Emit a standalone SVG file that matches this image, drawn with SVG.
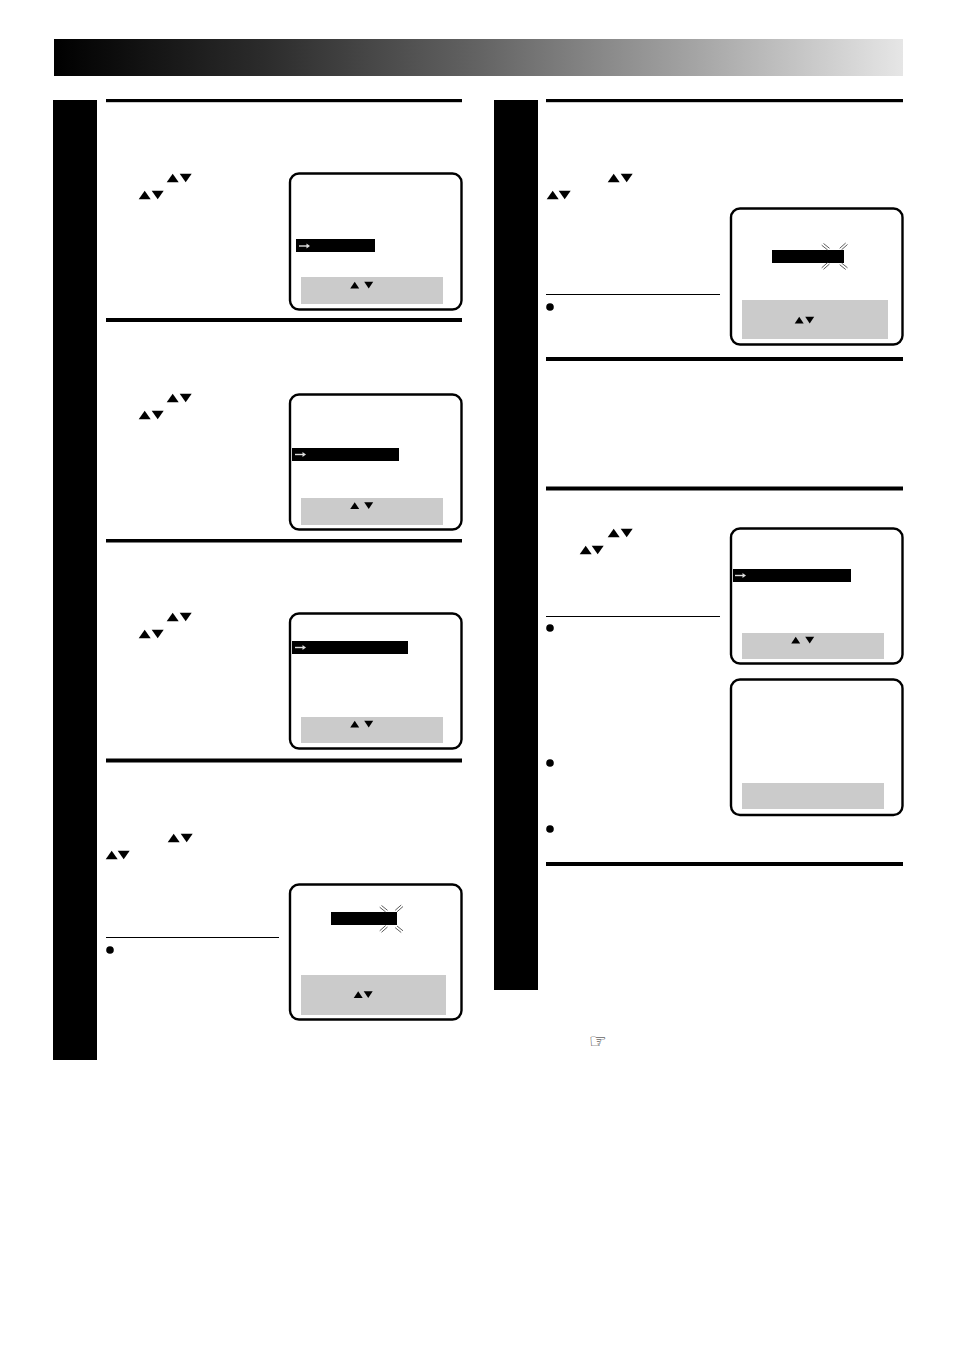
<svg xmlns="http://www.w3.org/2000/svg" xmlns:xlink="http://www.w3.org/1999/xlink" width="954" height="1349" viewBox="0 0 954 1349">
<style>
.screen{fill:#fff;stroke:#000;stroke-width:2.4}
.panel{fill:#cbcbcb}
.b{fill:#000}
.thin{stroke:#000;stroke-width:1.2;fill:none}
.ray{stroke:#333;stroke-width:.8;fill:none}
</style>
<defs>
<linearGradient id="hdr" x1="0" x2="1" y1="0" y2="0"><stop offset="0" stop-color="#000"/><stop offset=".25" stop-color="#2c2c2c"/><stop offset=".5" stop-color="#636363"/><stop offset=".75" stop-color="#a3a3a3"/><stop offset="1" stop-color="#e6e6e6"/></linearGradient>
<polygon id="u" points="-.3,8.300 5.700,-.3 11.700,8.300" fill="#000"/>
<polygon id="d" points="-.3,-.3 11.700,-.3 5.700,8.300" fill="#000"/>
<polygon id="su" points="-.3,6.400 4.200,-.3 8.700,6.400" fill="#000"/>
<polygon id="sd" points="-.3,-.3 8.700,-.3 4.200,6.400" fill="#000"/>
<g id="arr"><path d="M0 0H8" stroke="#ddd" stroke-width="1.4"/><polygon points="7.500,-2.500 11,0 7.500,2.500" fill="#ddd"/></g>
<g id="rayNW"><path class="ray" d="M1.500 -.5L7.500 4.300M-.3 1.200L5.700 6"/></g>
<g id="rayNE"><path class="ray" d="M1.500 5.800L7.500 .5M-.3 4.300L5.700 -1"/></g>
</defs>
<rect width="954" height="1349" fill="#fff"/>
<g id="header"><rect x="54" y="39" width="849" height="37" fill="url(#hdr)"/></g>
<g id="tabs" class="b"><rect x="53" y="100" width="44" height="960"/><rect x="494" y="100" width="44" height="890"/></g>
<g id="rules" class="b">
<rect x="106" y="99" width="356" height="3.200"/><rect x="106" y="318" width="356" height="4"/><rect x="106" y="539" width="356" height="3.500"/><rect x="106" y="758.500" width="356" height="4"/>
<rect x="546" y="99" width="357" height="3.200"/><rect x="546" y="357" width="357" height="4"/><rect x="546" y="486.500" width="357" height="4"/><rect x="546" y="862" width="357" height="4"/>
</g>
<g id="notes">
<path class="thin" d="M106 937.500H279M546 294.500H720M546 616.500H720"/>
<g class="b"><circle cx="110" cy="950" r="3.800"/><circle cx="550" cy="307" r="3.800"/><circle cx="550" cy="628" r="3.800"/><circle cx="550" cy="763" r="3.800"/><circle cx="550" cy="829" r="3.800"/></g>
</g>
<g id="text-arrows">
<use href="#u" x="167" y="174"/><use href="#d" x="180" y="174"/><use href="#u" x="139" y="191"/><use href="#d" x="152" y="191"/>
<use href="#u" x="167" y="394"/><use href="#d" x="180" y="394"/><use href="#u" x="139" y="411"/><use href="#d" x="152" y="411"/>
<use href="#u" x="167" y="613"/><use href="#d" x="180" y="613"/><use href="#u" x="139" y="630"/><use href="#d" x="152" y="630"/>
<use href="#u" x="168" y="834"/><use href="#d" x="181" y="834"/><use href="#u" x="106" y="851"/><use href="#d" x="118" y="851"/>
<use href="#u" x="608" y="174"/><use href="#d" x="621" y="174"/><use href="#u" x="547" y="191"/><use href="#d" x="559" y="191"/>
<use href="#u" x="608" y="529"/><use href="#d" x="621" y="529"/><use href="#u" x="580" y="546"/><use href="#d" x="592" y="546"/>
</g>
<g id="screen-1"><rect class="screen" x="290" y="173.500" width="171.500" height="136" rx="9"/><rect class="b" x="296" y="239" width="79" height="13"/><use href="#arr" x="299" y="246"/><rect class="panel" x="301" y="277" width="142" height="27"/><use href="#su" x="350.500" y="282"/><use href="#sd" x="364.500" y="282"/></g>
<g id="screen-2"><rect class="screen" x="290" y="394.500" width="171.500" height="135" rx="9"/><rect class="b" x="292" y="448" width="107" height="13"/><use href="#arr" x="295" y="454.500"/><rect class="panel" x="301" y="498" width="142" height="27"/><use href="#su" x="350.500" y="502.500"/><use href="#sd" x="364.500" y="502.500"/></g>
<g id="screen-3"><rect class="screen" x="290" y="613.500" width="171.500" height="135" rx="9"/><rect class="b" x="292" y="641" width="116" height="13"/><use href="#arr" x="295" y="647.500"/><rect class="panel" x="301" y="717" width="142" height="26"/><use href="#su" x="350.500" y="721"/><use href="#sd" x="364.500" y="721"/></g>
<g id="screen-4"><rect class="screen" x="290" y="884.500" width="171.500" height="135" rx="9"/><rect class="b" x="331" y="912" width="66" height="13"/>
<use href="#rayNW" x="380" y="906"/><use href="#rayNE" x="395.500" y="906"/><use href="#rayNE" x="380" y="926.500"/><use href="#rayNW" x="395.500" y="926.500"/>
<rect class="panel" x="301" y="975" width="145" height="40"/><use href="#su" x="354" y="991.500"/><use href="#sd" x="364" y="991.500"/></g>
<g id="screen-5"><rect class="screen" x="731" y="208.500" width="171.500" height="136" rx="9"/><rect class="b" x="772" y="250" width="72" height="13"/>
<use href="#rayNW" x="822" y="244"/><use href="#rayNE" x="840" y="244"/><use href="#rayNE" x="822" y="263.500"/><use href="#rayNW" x="840" y="263.500"/>
<rect class="panel" x="742" y="300" width="146" height="39"/><use href="#su" x="795" y="317"/><use href="#sd" x="805.500" y="317"/></g>
<g id="screen-6"><rect class="screen" x="731" y="528.500" width="171.500" height="135" rx="9"/><rect class="b" x="733" y="569" width="118" height="13"/><use href="#arr" x="735" y="575.500"/><rect class="panel" x="742" y="633" width="142" height="26"/><use href="#su" x="791.500" y="637"/><use href="#sd" x="805.500" y="637"/></g>
<g id="screen-7"><rect class="screen" x="731" y="679.500" width="171.500" height="135.500" rx="9"/><rect class="panel" x="742" y="783" width="142" height="26"/></g>
<g id="ref"><text x="589" y="1048" font-family="'DejaVu Sans',sans-serif" font-size="20" fill="#222">☞</text></g>
</svg>
